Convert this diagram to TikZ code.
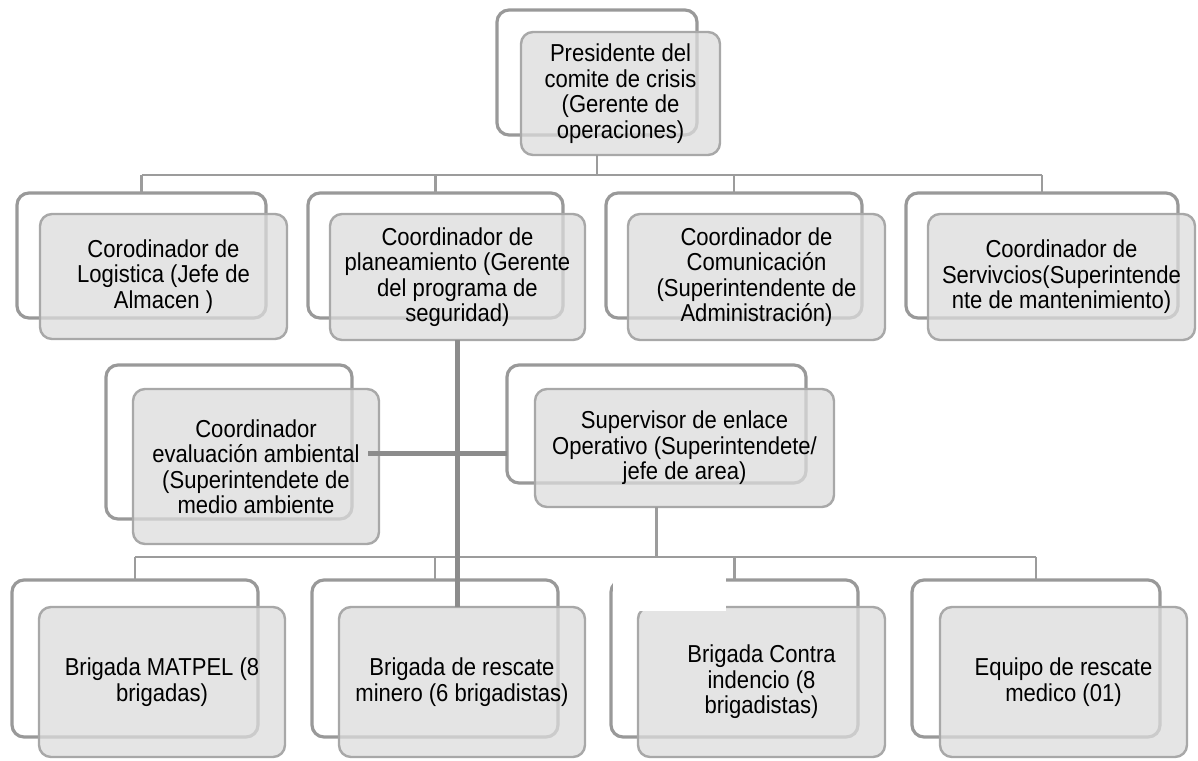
\documentclass[tikz,border=0pt]{standalone}
\usepackage{fontspec}
\setmainfont{Liberation Sans}[FakeStretch=0.9]
\definecolor{backline}{HTML}{999999}
\definecolor{frontline}{HTML}{A8A8A8}
\definecolor{frontfill}{HTML}{DCDCDC}
\definecolor{linkgray}{HTML}{9C9C9C}
\definecolor{thickgray}{HTML}{8C8C8C}
\tikzset{
  backbox/.style={draw=backline, line width=3.2pt, fill=white, rounded corners=12pt, inner sep=0pt, outer sep=0pt},
  frontbox/.style={draw=frontline, line width=2.4pt, fill=frontfill, fill opacity=0.75, text opacity=1,
    rounded corners=12pt, inner sep=0pt, outer sep=0pt, align=center, font=\fontsize{24.5}{25.5}\selectfont},
  sz/.style 2 args={minimum width=#1pt, minimum height=#2pt},
  link/.style={draw=linkgray, line width=2.4pt},
  thicklink/.style={draw=thickgray, line width=5pt},
}
\begin{document}
\begin{tikzpicture}[x=1pt,y=-1pt]
\useasboundingbox (0,0) rectangle (1198,760);
% top
\node[backbox, sz={200}{125}] (topB) at (597,72.5) {};
\node[frontbox, sz={199}{123}] (topF) at (620.5,93.5) {Presidente del\\comite de crisis\\(Gerente de\\operaciones)};
% level 1
\node[backbox, sz={249}{125}] (p1B) at (141.5,255.5) {};
\node[frontbox, sz={247}{125}] (p1F) at (163.5,276.5) {Corodinador de\\Logistica (Jefe de\\Almacen )};
\node[backbox, sz={255}{125}] (p2B) at (435.5,255.5) {};
\node[frontbox, sz={255}{126}] (p2F) at (457.5,277) {Coordinador de\\planeamiento (Gerente\\del programa de\\seguridad)};
\node[backbox, sz={256}{125}] (p3B) at (734,255.5) {};
\node[frontbox, sz={257}{126}] (p3F) at (756.5,277) {Coordinador de\\Comunicación\\(Superintendente de\\Administración)};
\node[backbox, sz={272}{125}] (p4B) at (1042,255.5) {};
\node[frontbox, sz={267}{126}] (p4F) at (1061.5,277) {Coordinador de\\Servivcios(Superintende\\nte de mantenimiento)};
% level 2
\node[backbox, sz={246}{154}] (evB) at (229,442) {};
\node[frontbox, sz={246}{155}] (evF) at (256,466.5) {Coordinador\\evaluación ambiental\\(Superintendete de\\medio ambiente};
\node[backbox, sz={299}{118}] (supB) at (656.5,424) {};
\node[frontbox, sz={299}{118}] (supF) at (684.5,448) {Supervisor de enlace\\Operativo (Superintendete/\\jefe de area)};
% level 3
\node[backbox, sz={246}{157}] (c1B) at (135,658.5) {};
\node[frontbox, sz={246}{150}] (c1F) at (162,682) {Brigada MATPEL (8\\brigadas)};
\node[backbox, sz={246}{157}] (c2B) at (435,658.5) {};
\node[frontbox, sz={246}{150}] (c2F) at (462,682) {Brigada de rescate\\minero (6 brigadistas)};
\node[backbox, sz={247}{157}] (c3B) at (734.5,658.5) {};
\node[frontbox, sz={247}{150}] (c3F) at (761.5,682) {Brigada Contra\\indencio (8\\brigadistas)};
\node[backbox, sz={248}{157}] (c4B) at (1036,658.5) {};
\node[frontbox, sz={247}{150}] (c4F) at (1063.5,682) {Equipo de rescate\\medico (01)};
% thin connectors
\coordinate (bar1) at (0,175);
\coordinate (bar3) at (0,557);
\draw[link] (topB.south |- topF.south) -- (topB.south |- bar1);
\draw[link] (p1B.north |- bar1) -- (p4B.north |- bar1);
\foreach \n in {p1B,p2B,p3B,p4B} \draw[link] (\n.north |- bar1) -- (\n.north);
\draw[link] (supB.south |- supF.south) -- (supB.south |- bar3);
\draw[link] (c1B.north |- bar3) -- (c4B.north |- bar3);
\foreach \n in {c1B,c2B,c3B,c4B} \draw[link] (\n.north |- bar3) -- (\n.north);
% thick connectors
\coordinate (hl) at (368,453);
\draw[thicklink] (p2F.south) -- (p2F.south |- c2F.north);
\draw[thicklink] (hl) -- (hl -| supB.west);
% white patch
\fill[white] (613,578) rectangle (726,611);
\end{tikzpicture}
\end{document}
